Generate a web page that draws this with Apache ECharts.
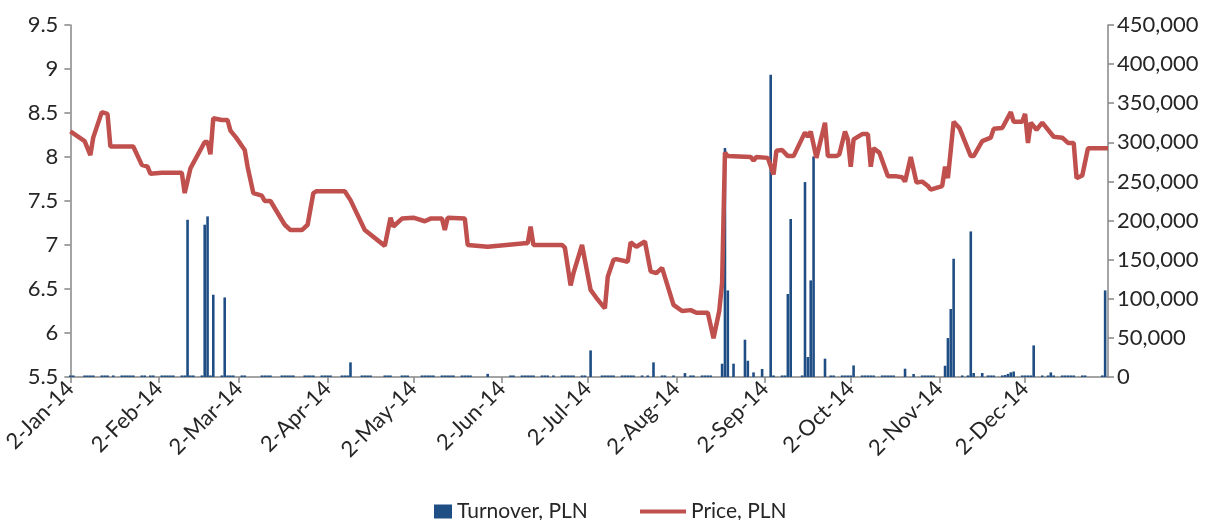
<!DOCTYPE html>
<html><head><meta charset="utf-8">
<script src="https://cdn.jsdelivr.net/npm/echarts@6/dist/echarts.min.js"></script>
<style>html,body{margin:0;padding:0;background:#fff}#c{width:1205px;height:520px}</style>
</head><body><div id="c"></div>
<script>
// ---- Data ----
const monthNames = ['Jan','Feb','Mar','Apr','May','Jun','Jul','Aug','Sep','Oct','Nov','Dec'];
const startDate = '2014-01-02';
const endDate = '2014-12-31';

// Price, PLN (line vertices)
const priceDates = ['2014-01-02','2014-01-07','2014-01-09','2014-01-10','2014-01-13','2014-01-15','2014-01-16','2014-01-24','2014-01-27','2014-01-29','2014-01-30',
'2014-02-03','2014-02-10','2014-02-11','2014-02-13','2014-02-18','2014-02-19','2014-02-20','2014-02-21','2014-02-24','2014-02-26','2014-02-27',
'2014-03-01','2014-03-04','2014-03-05','2014-03-07','2014-03-10','2014-03-11','2014-03-13','2014-03-18','2014-03-20','2014-03-24','2014-03-26','2014-03-28','2014-03-29',
'2014-04-08','2014-04-10','2014-04-15','2014-04-22','2014-04-24','2014-04-25','2014-04-28',
'2014-05-02','2014-05-06','2014-05-08','2014-05-12','2014-05-13','2014-05-14','2014-05-20','2014-05-21','2014-05-28',
'2014-06-10','2014-06-11','2014-06-12','2014-06-13','2014-06-23','2014-06-24','2014-06-26','2014-06-27','2014-06-30',
'2014-07-03','2014-07-05','2014-07-08','2014-07-09','2014-07-11','2014-07-12','2014-07-16','2014-07-17','2014-07-19','2014-07-22','2014-07-24','2014-07-26','2014-07-28',
'2014-08-01','2014-08-04','2014-08-07','2014-08-09','2014-08-13','2014-08-15','2014-08-17','2014-08-18','2014-08-19','2014-08-20','2014-08-28','2014-08-29','2014-08-30',
'2014-09-03','2014-09-05','2014-09-06','2014-09-08','2014-09-10','2014-09-12','2014-09-16','2014-09-17','2014-09-18','2014-09-20','2014-09-23','2014-09-24','2014-09-27','2014-09-28','2014-09-30',
'2014-10-01','2014-10-02','2014-10-03','2014-10-06','2014-10-08','2014-10-09','2014-10-10','2014-10-12','2014-10-15','2014-10-18','2014-10-20','2014-10-21','2014-10-23','2014-10-25','2014-10-27','2014-10-29','2014-10-30',
'2014-11-03','2014-11-04','2014-11-05','2014-11-07','2014-11-09','2014-11-13','2014-11-14','2014-11-17','2014-11-20','2014-11-21','2014-11-24','2014-11-27','2014-11-28',
'2014-12-01','2014-12-02','2014-12-03','2014-12-04','2014-12-06','2014-12-08','2014-12-12','2014-12-15','2014-12-17','2014-12-19','2014-12-20','2014-12-22','2014-12-24','2014-12-31'];
const priceValues = [8.29,8.18,8.02,8.22,8.51,8.49,8.12,8.12,7.91,7.89,7.81,
7.82,7.82,7.59,7.87,8.17,8.17,8.03,8.44,8.42,8.42,8.30,
8.22,8.08,7.89,7.59,7.56,7.50,7.50,7.23,7.17,7.17,7.23,7.59,7.61,
7.61,7.51,7.17,6.99,7.31,7.21,7.30,
7.31,7.27,7.30,7.30,7.17,7.31,7.30,7.00,6.98,
7.02,7.02,7.21,7.00,7.00,6.97,6.54,6.68,7.00,
6.49,6.40,6.28,6.64,6.83,6.84,6.81,7.03,6.98,7.04,6.70,6.68,6.74,
6.32,6.25,6.26,6.23,6.23,5.94,6.25,6.57,8.05,8.01,8.00,7.96,8.00,
7.99,7.80,8.07,8.08,8.01,8.01,8.28,8.23,8.29,7.99,8.39,8.01,8.01,8.03,8.29,
8.20,7.89,8.20,8.26,8.26,7.89,8.10,8.05,7.78,7.78,7.77,7.72,8.00,7.71,7.72,7.67,7.63,
7.67,7.89,7.76,8.40,8.33,8.01,8.01,8.18,8.22,8.32,8.33,8.51,8.40,
8.40,8.49,8.16,8.39,8.31,8.39,8.23,8.22,8.16,8.16,7.76,7.79,8.10,8.10];

// Turnover, PLN (bars)
const turnoverDates = [
'2014-01-02','2014-01-03','2014-01-07','2014-01-08','2014-01-09','2014-01-10','2014-01-13','2014-01-14','2014-01-15','2014-01-17','2014-01-20','2014-01-21','2014-01-22','2014-01-23','2014-01-24','2014-01-27','2014-01-28','2014-01-30','2014-01-31',
'2014-02-03','2014-02-04','2014-02-05','2014-02-06','2014-02-07','2014-02-10','2014-02-11','2014-02-12','2014-02-13','2014-02-14','2014-02-17','2014-02-18','2014-02-19','2014-02-20','2014-02-21','2014-02-24','2014-02-25','2014-02-26','2014-02-27','2014-02-28',
'2014-03-03','2014-03-04','2014-03-10','2014-03-11','2014-03-12','2014-03-13','2014-03-17','2014-03-18','2014-03-19','2014-03-20','2014-03-21','2014-03-25','2014-03-26','2014-03-27','2014-03-28','2014-03-31',
'2014-04-01','2014-04-02','2014-04-03','2014-04-07','2014-04-08','2014-04-09','2014-04-10','2014-04-14','2014-04-15','2014-04-16','2014-04-17','2014-04-22','2014-04-23','2014-04-24','2014-04-28','2014-04-29','2014-04-30',
'2014-05-05','2014-05-06','2014-05-07','2014-05-08','2014-05-09','2014-05-12','2014-05-13','2014-05-14','2014-05-15','2014-05-16','2014-05-19','2014-05-20','2014-05-21','2014-05-22','2014-05-28',
'2014-06-05','2014-06-06','2014-06-09','2014-06-10','2014-06-11','2014-06-12','2014-06-13','2014-06-16','2014-06-17','2014-06-18','2014-06-20','2014-06-23','2014-06-24','2014-06-25','2014-06-26','2014-06-27','2014-06-30',
'2014-07-01','2014-07-03','2014-07-07','2014-07-08','2014-07-09','2014-07-10','2014-07-11','2014-07-14','2014-07-15','2014-07-16','2014-07-17','2014-07-18','2014-07-21','2014-07-23','2014-07-25','2014-07-28','2014-07-29',
'2014-08-01','2014-08-05','2014-08-07','2014-08-08','2014-08-11','2014-08-12','2014-08-13','2014-08-14','2014-08-18','2014-08-19','2014-08-20','2014-08-22','2014-08-26','2014-08-27','2014-08-29',
'2014-09-01','2014-09-04','2014-09-05','2014-09-08','2014-09-09','2014-09-10','2014-09-11','2014-09-15','2014-09-16','2014-09-17','2014-09-18','2014-09-19','2014-09-23','2014-09-25','2014-09-26','2014-09-29','2014-09-30',
'2014-10-01','2014-10-02','2014-10-03','2014-10-06','2014-10-07','2014-10-08','2014-10-09','2014-10-10','2014-10-13','2014-10-14','2014-10-15','2014-10-16','2014-10-17','2014-10-21','2014-10-24','2014-10-27','2014-10-28','2014-10-29','2014-10-30','2014-10-31',
'2014-11-04','2014-11-05','2014-11-06','2014-11-07','2014-11-10','2014-11-12','2014-11-13','2014-11-14','2014-11-17','2014-11-19','2014-11-20','2014-11-21','2014-11-24','2014-11-25','2014-11-26','2014-11-27','2014-11-28',
'2014-12-01','2014-12-02','2014-12-03','2014-12-04','2014-12-05','2014-12-08','2014-12-10','2014-12-11','2014-12-12','2014-12-15','2014-12-16','2014-12-17','2014-12-18','2014-12-19','2014-12-22','2014-12-23','2014-12-29','2014-12-30'];
const turnoverValues = [
2000,2000,2000,2000,2000,2000,2000,2000,2000,2000,2000,2000,2000,2000,2000,2000,2000,2000,2000,
2000,2000,2000,2000,2000,2000,2000,201000,2000,2000,2000,194700,205300,2000,105200,2000,101700,2000,2000,2000,
2000,2000,2000,2000,2000,2000,2000,2000,2000,2000,2000,2000,2000,2000,2000,2000,
2000,2000,2000,2000,2000,2000,18700,2000,2000,2000,2000,2000,2000,2000,2000,2000,2000,
2000,2000,2000,2000,2000,2000,2000,2000,2000,2000,2000,2000,2000,2000,4000,
2000,2000,2000,2000,2000,2000,2000,2000,2000,2000,2000,2000,2000,2000,2000,2000,2000,
2000,34000,2000,2000,2000,2000,2000,2000,2000,2000,2000,2000,2000,2000,18700,2000,2000,
2000,5000,2000,2000,2000,2000,2000,2000,17000,292700,110700,17000,47700,20800,5900,
10200,386300,2000,2000,2000,106100,202000,2000,249200,25600,123500,282000,23400,2000,2000,2000,2000,
2000,2000,14800,2000,2000,2000,2000,2000,2000,2000,2000,2000,2000,10600,3800,2000,2000,2000,2000,2000,
14400,49800,86900,151200,2000,2000,186100,5100,5100,2000,2000,2000,2000,2500,4000,6000,7000,
2000,2000,2000,2000,40400,2000,2000,5900,2000,2000,2000,2000,2000,2000,2000,2000,2000,110700];

// Axis tick values
const priceMin = 5.5, priceMax = 9.5, priceStep = 0.5;
const turnMin = 0, turnMax = 450000, turnStep = 50000;

// ---- Build calendar-day category axis ----
function fmt(d){const m=d.getUTCMonth()+1,dd=d.getUTCDate();return d.getUTCFullYear()+'-'+(m<10?'0':'')+m+'-'+(dd<10?'0':'')+dd;}
const categories = [];
for (let t = Date.parse(startDate+'T00:00:00Z'); t <= Date.parse(endDate+'T00:00:00Z'); t += 86400000) categories.push(fmt(new Date(t)));
const idx = {}; categories.forEach((c,i)=>idx[c]=i);
const priceSeries = categories.map(()=>null);
priceDates.forEach((d,i)=>{priceSeries[idx[d]] = priceValues[i];});
const turnSeries = categories.map(()=>null);
turnoverDates.forEach((d,i)=>{turnSeries[idx[d]] = turnoverValues[i];});

const FONT = 'Lato';
const TXT = '#262626';
const AX = '#868686';
const isLabelDay = (i, v) => v.slice(8) === '02';

const chart = echarts.init(document.getElementById('c'), null, {renderer:'canvas'});
chart.setOption({
  animation: false,
  backgroundColor: '#ffffff',
  textStyle: {fontFamily: FONT},
  grid: {left: 69, right: 97, top: 25, bottom: 143, containLabel: false},
  legend: [
    {data: [{name:'Turnover, PLN', icon:'rect'}], left: 429, top: 496, itemWidth: 18, itemHeight: 14,
     textStyle: {fontFamily: FONT, fontSize: 21, color: TXT}},
    {data: [{name:'Price, PLN', icon:'rect'}], left: 635, top: 496, itemWidth: 46, itemHeight: 4,
     textStyle: {fontFamily: FONT, fontSize: 21, color: TXT}}
  ],
  xAxis: {
    type: 'category', data: categories, boundaryGap: false,
    axisLine: {lineStyle: {color: AX, width: 1.5}},
    axisTick: {interval: isLabelDay, length: 6, lineStyle: {color: AX, width: 1.5}},
    axisLabel: {interval: isLabelDay, rotate: 45, margin: 8, fontFamily: FONT, fontSize: 22, color: TXT,
      formatter: v => parseInt(v.slice(8),10) + '-' + monthNames[parseInt(v.slice(5,7),10)-1] + '-' + v.slice(2,4)},
    splitLine: {show: false}
  },
  yAxis: [
    {type: 'value', min: priceMin, max: priceMax, interval: priceStep, position: 'left',
     axisLine: {show: true, lineStyle: {color: AX, width: 1.5}},
     axisTick: {show: true, length: 6, lineStyle: {color: AX, width: 1.5}},
     axisLabel: {fontFamily: FONT, fontSize: 22, color: TXT, margin: 12},
     splitLine: {show: false}},
    {type: 'value', min: turnMin, max: turnMax, interval: turnStep, position: 'right',
     axisLine: {show: true, lineStyle: {color: AX, width: 1.5}},
     axisTick: {show: true, length: 6, lineStyle: {color: AX, width: 1.5}},
     axisLabel: {fontFamily: FONT, fontSize: 22, color: TXT, margin: 9,
       formatter: v => v.toLocaleString('en-US')},
     splitLine: {show: false}}
  ],
  series: [
    {name: 'Turnover, PLN', type: 'bar', yAxisIndex: 1, data: turnSeries, barWidth: 2.6,
     itemStyle: {color: '#1F4E85'}, emphasis: {disabled: true}},
    {name: 'Price, PLN', type: 'line', yAxisIndex: 0, data: priceSeries, connectNulls: true,
     showSymbol: false, symbol: 'none', lineStyle: {color: '#C0504D', width: 4.5}, itemStyle: {color: '#C0504D'},
     emphasis: {disabled: true}}
  ]
});
</script></body></html>
